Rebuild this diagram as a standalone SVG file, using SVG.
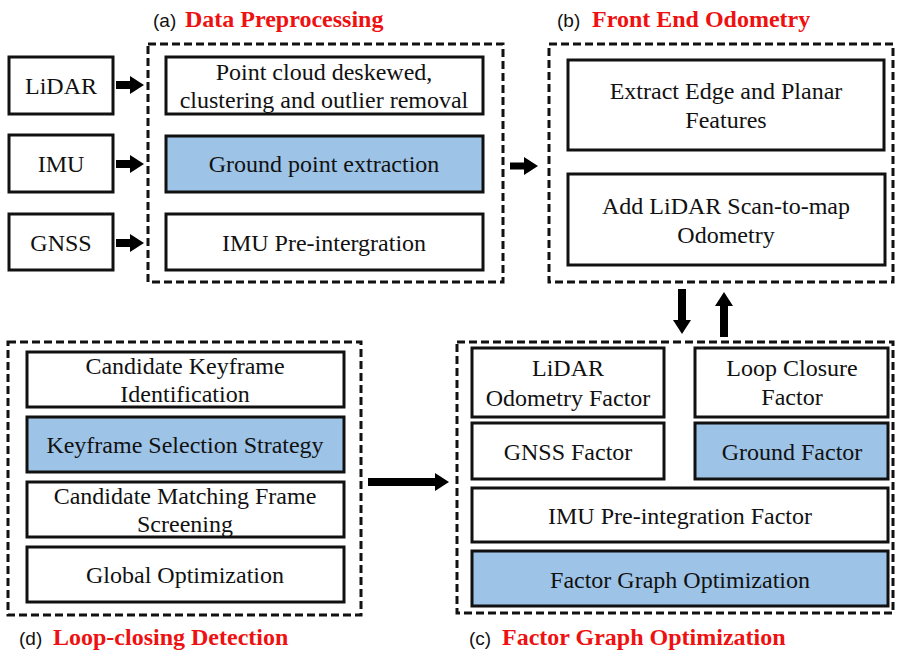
<svg xmlns="http://www.w3.org/2000/svg" width="899" height="655" viewBox="0 0 899 655">
<style>
  .box{fill:#fff;stroke:#111;stroke-width:3}
  .blue{fill:#9dc3e6;stroke:#111;stroke-width:3}
  .dash{fill:none;stroke:#111;stroke-width:3;stroke-dasharray:8 4}
  .t{font-family:"Liberation Serif","Times New Roman",serif;font-size:24px;fill:#111;text-anchor:middle}
  .lab{font-family:"Liberation Sans",Arial,sans-serif;font-size:19px;fill:#111}
  .red{font-family:"Liberation Serif","Times New Roman",serif;font-size:24px;font-weight:bold;fill:#ee1111}
  .arr{stroke:#000;fill:none}
</style>
<defs>
  <marker id="ah" markerUnits="userSpaceOnUse" markerWidth="14" markerHeight="18" refX="2" refY="9" orient="auto">
    <path d="M0,0 L14,9 L0,18 z" fill="#000"/>
  </marker>
</defs>

<g id="title-a"><text x="153" y="27" class="lab">(a)</text><text x="185" y="27" class="red">Data Preprocessing</text></g>
<g id="title-b"><text x="557" y="27" class="lab">(b)</text><text x="592" y="27" class="red">Front End Odometry</text></g>
<g id="title-d"><text x="19" y="645" class="lab">(d)</text><text x="53" y="645" class="red">Loop-closing Detection</text></g>
<g id="title-c"><text x="469" y="645" class="lab">(c)</text><text x="502" y="645" class="red">Factor Graph Optimization</text></g>

<g id="group-a"><rect x="148" y="44" width="355" height="238" class="dash"/></g>
<g id="group-b"><rect x="549" y="44" width="344" height="238" class="dash"/></g>
<g id="group-d"><rect x="8" y="342" width="353" height="273" class="dash"/></g>
<g id="group-c"><rect x="457" y="342" width="436" height="271" class="dash"/></g>

<g id="lidar"><rect x="9" y="57" width="104" height="57" class="box"/><text x="61" y="94" class="t">LiDAR</text></g>
<g id="imu"><rect x="9" y="135" width="104" height="57" class="box"/><text x="61" y="172" class="t">IMU</text></g>
<g id="gnss"><rect x="9" y="214" width="104" height="56" class="box"/><text x="61" y="251" class="t">GNSS</text></g>

<g id="deskew"><rect x="166" y="57" width="317" height="57" class="box"/><text x="324" y="80" class="t">Point cloud deskewed,</text><text x="324" y="108" class="t">clustering and outlier removal</text></g>
<g id="ground-extract"><rect x="166" y="136" width="317" height="56" class="blue"/><text x="324" y="172" class="t">Ground point extraction</text></g>
<g id="imu-preint"><rect x="166" y="214" width="317" height="56" class="box"/><text x="324" y="251" class="t">IMU Pre-intergration</text></g>

<g id="extract"><rect x="568" y="60" width="316" height="90" class="box"/><text x="726" y="99" class="t">Extract Edge and Planar</text><text x="726" y="128" class="t">Features</text></g>
<g id="scan2map"><rect x="568" y="174" width="317" height="91" class="box"/><text x="726" y="214" class="t">Add LiDAR Scan-to-map</text><text x="726" y="243" class="t">Odometry</text></g>

<g id="cand-key"><rect x="27" y="352" width="317" height="55" class="box"/><text x="185" y="374" class="t">Candidate Keyframe</text><text x="185" y="402" class="t">Identification</text></g>
<g id="key-sel"><rect x="27" y="417" width="317" height="55" class="blue"/><text x="185" y="453" class="t">Keyframe Selection Strategy</text></g>
<g id="cand-match"><rect x="27" y="482" width="317" height="55" class="box"/><text x="185" y="504" class="t">Candidate Matching Frame</text><text x="185" y="532" class="t">Screening</text></g>
<g id="global-opt"><rect x="27" y="547" width="317" height="55" class="box"/><text x="185" y="583" class="t">Global Optimization</text></g>

<g id="lidar-factor"><rect x="472" y="348" width="192" height="69" class="box"/><text x="568" y="376" class="t">LiDAR</text><text x="568" y="406" class="t">Odometry Factor</text></g>
<g id="loop-factor"><rect x="695" y="348" width="193" height="69" class="box"/><text x="792" y="376" class="t">Loop Closure</text><text x="792" y="405" class="t">Factor</text></g>
<g id="gnss-factor"><rect x="472" y="423" width="192" height="56" class="box"/><text x="568" y="460" class="t">GNSS Factor</text></g>
<g id="ground-factor"><rect x="695" y="423" width="193" height="56" class="blue"/><text x="792" y="460" class="t">Ground Factor</text></g>
<g id="imu-factor"><rect x="472" y="488" width="416" height="54" class="box"/><text x="680" y="524" class="t">IMU Pre-integration Factor</text></g>
<g id="fgo"><rect x="472" y="551" width="416" height="55" class="blue"/><text x="680" y="588" class="t">Factor Graph Optimization</text></g>

<g id="connectors">
  <line x1="116" y1="85" x2="132" y2="85" class="arr" stroke-width="8" marker-end="url(#ah)"/>
  <line x1="116" y1="164" x2="132" y2="164" class="arr" stroke-width="8" marker-end="url(#ah)"/>
  <line x1="116" y1="243" x2="132" y2="243" class="arr" stroke-width="8" marker-end="url(#ah)"/>
  <line x1="510" y1="166" x2="526" y2="166" class="arr" stroke-width="7" marker-end="url(#ah)"/>
  <line x1="682" y1="289" x2="682" y2="322" class="arr" stroke-width="8" marker-end="url(#ah)"/>
  <line x1="724" y1="337" x2="724" y2="304" class="arr" stroke-width="8" marker-end="url(#ah)"/>
  <line x1="368" y1="482" x2="437" y2="482" class="arr" stroke-width="8" marker-end="url(#ah)"/>
</g>
</svg>
